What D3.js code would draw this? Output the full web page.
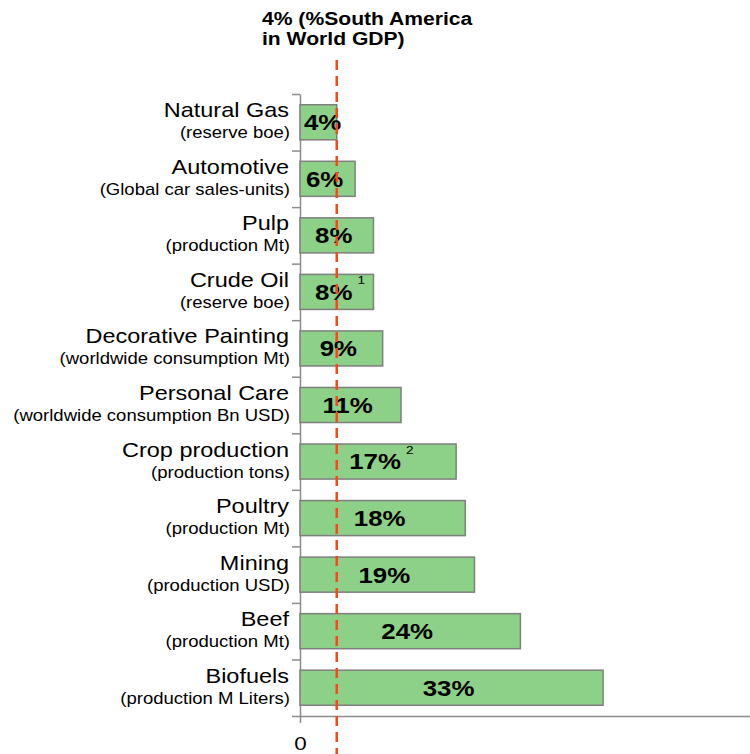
<!DOCTYPE html>
<html>
<head>
<meta charset="utf-8">
<script src="https://cdn.jsdelivr.net/npm/d3@7"></script>
<style>
  html, body { margin: 0; padding: 0; background: #fff; }
  svg { display: block; }
  text { font-family: "Liberation Sans", Arial, Helvetica, sans-serif; fill: #000; }
</style>
</head>
<body>
<svg id="chart" width="750" height="754"></svg>
<script>
// South America's share of world output, by sector
const categories = ["Natural Gas", "Automotive", "Pulp", "Crude Oil", "Decorative Painting",
  "Personal Care", "Crop production", "Poultry", "Mining", "Beef", "Biofuels"];
const subLabels = ["(reserve boe)", "(Global car sales-units)", "(production Mt)", "(reserve boe)",
  "(worldwide consumption Mt)", "(worldwide consumption Bn USD)", "(production tons)",
  "(production Mt)", "(production USD)", "(production Mt)", "(production M Liters)"];
const shares = [4, 6, 8, 8, 9, 11, 17, 18, 19, 24, 33];
const footnotes = ["", "", "", "1", "", "", "2", "", "", "", ""];
const gdpShare = 4;
const titleLines = ["4% (%South America", "in World GDP)"];
const xTickValues = [0];

// horizontal stretch applied to all type
const SX = 1.18;

const svg = d3.select("#chart");

const x = d3.scaleLinear().domain([0, 49]).range([300, 750]);
const y = d3.scaleBand().domain(categories).range([94, 716]).paddingInner(0.38).paddingOuter(0.19);
const yEdge = d3.scaleLinear().domain([0, categories.length]).range([94, 716]);

function stretched(sel, px, py) {
  return sel.attr("transform", `translate(${px},${py}) scale(${SX},1)`);
}

// left axis with ticks on category boundaries
const yAxis = svg.append("g")
  .attr("transform", `translate(${x(0)},0)`)
  .call(d3.axisLeft(yEdge).tickValues(d3.range(categories.length + 1)).tickFormat("").tickSize(8).tickSizeOuter(0));
yAxis.selectAll("path, line").attr("stroke", "#8c8c8c").attr("stroke-width", 1.5);

// bottom axis
const xAxis = svg.append("g")
  .attr("transform", `translate(0,${yEdge(categories.length)})`)
  .call(d3.axisBottom(x).tickValues(xTickValues).tickFormat(d3.format("d")).tickSize(7).tickSizeOuter(0));
xAxis.selectAll("path, line").attr("stroke", "#8c8c8c").attr("stroke-width", 1.5);
xAxis.selectAll(".tick text")
  .attr("y", null).attr("dy", null)
  .attr("font-size", 19)
  .attr("font-family", null)
  .attr("fill", "#000")
  .attr("text-anchor", "middle")
  .each(function () { stretched(d3.select(this), 0, 33.5); });

// bars
svg.append("g").selectAll("rect")
  .data(shares)
  .join("rect")
  .attr("x", x(0))
  .attr("y", (d, i) => y(categories[i]))
  .attr("width", d => x(d) - x(0))
  .attr("height", y.bandwidth())
  .attr("fill", "#8dd087")
  .attr("stroke", "#7f7f7f")
  .attr("stroke-width", 1.5);

// category labels
const labels = svg.append("g");
categories.forEach((c, i) => {
  const cy = y(c) + y.bandwidth() / 2;
  stretched(labels.append("text"), 289, cy - 5)
    .attr("text-anchor", "end").attr("font-size", 19.9).text(c);
  stretched(labels.append("text"), 290, cy + 16)
    .attr("text-anchor", "end").attr("font-size", 15.7).text(subLabels[i]);
});

// value labels
const values = svg.append("g");
shares.forEach((v, i) => {
  const c = categories[i];
  const cy = y(c) + y.bandwidth() / 2;
  const t = values.append("text")
    .attr("font-size", 21.9).attr("font-weight", "bold").attr("text-anchor", "middle");
  t.append("tspan").text(v + "%");
  const w = t.node().getComputedTextLength() * SX;
  let cx = (x(0) + x(v)) / 2 - 3;
  cx = Math.max(cx, x(0) + 4 + w / 2);
  stretched(t, cx, cy + 7.9);
  if (footnotes[i]) {
    values.append("text")
      .attr("font-size", 11.5).attr("text-anchor", "start")
      .attr("transform", `translate(${cx + w / 2 + 5},${cy - 8}) scale(${SX},1)`)
      .text(footnotes[i]);
  }
});

// world GDP reference line
svg.append("line")
  .attr("x1", x(gdpShare)).attr("x2", x(gdpShare))
  .attr("y1", 60).attr("y2", 754)
  .attr("stroke", "#ff431c").attr("stroke-width", 2.5)
  .attr("stroke-dasharray", "10,6");

// reference line caption
titleLines.forEach((line, i) => {
  stretched(svg.append("text"), 262, 24.5 + i * 20)
    .attr("font-size", 17.9).attr("font-weight", "bold").text(line);
});
</script>
</body>
</html>
